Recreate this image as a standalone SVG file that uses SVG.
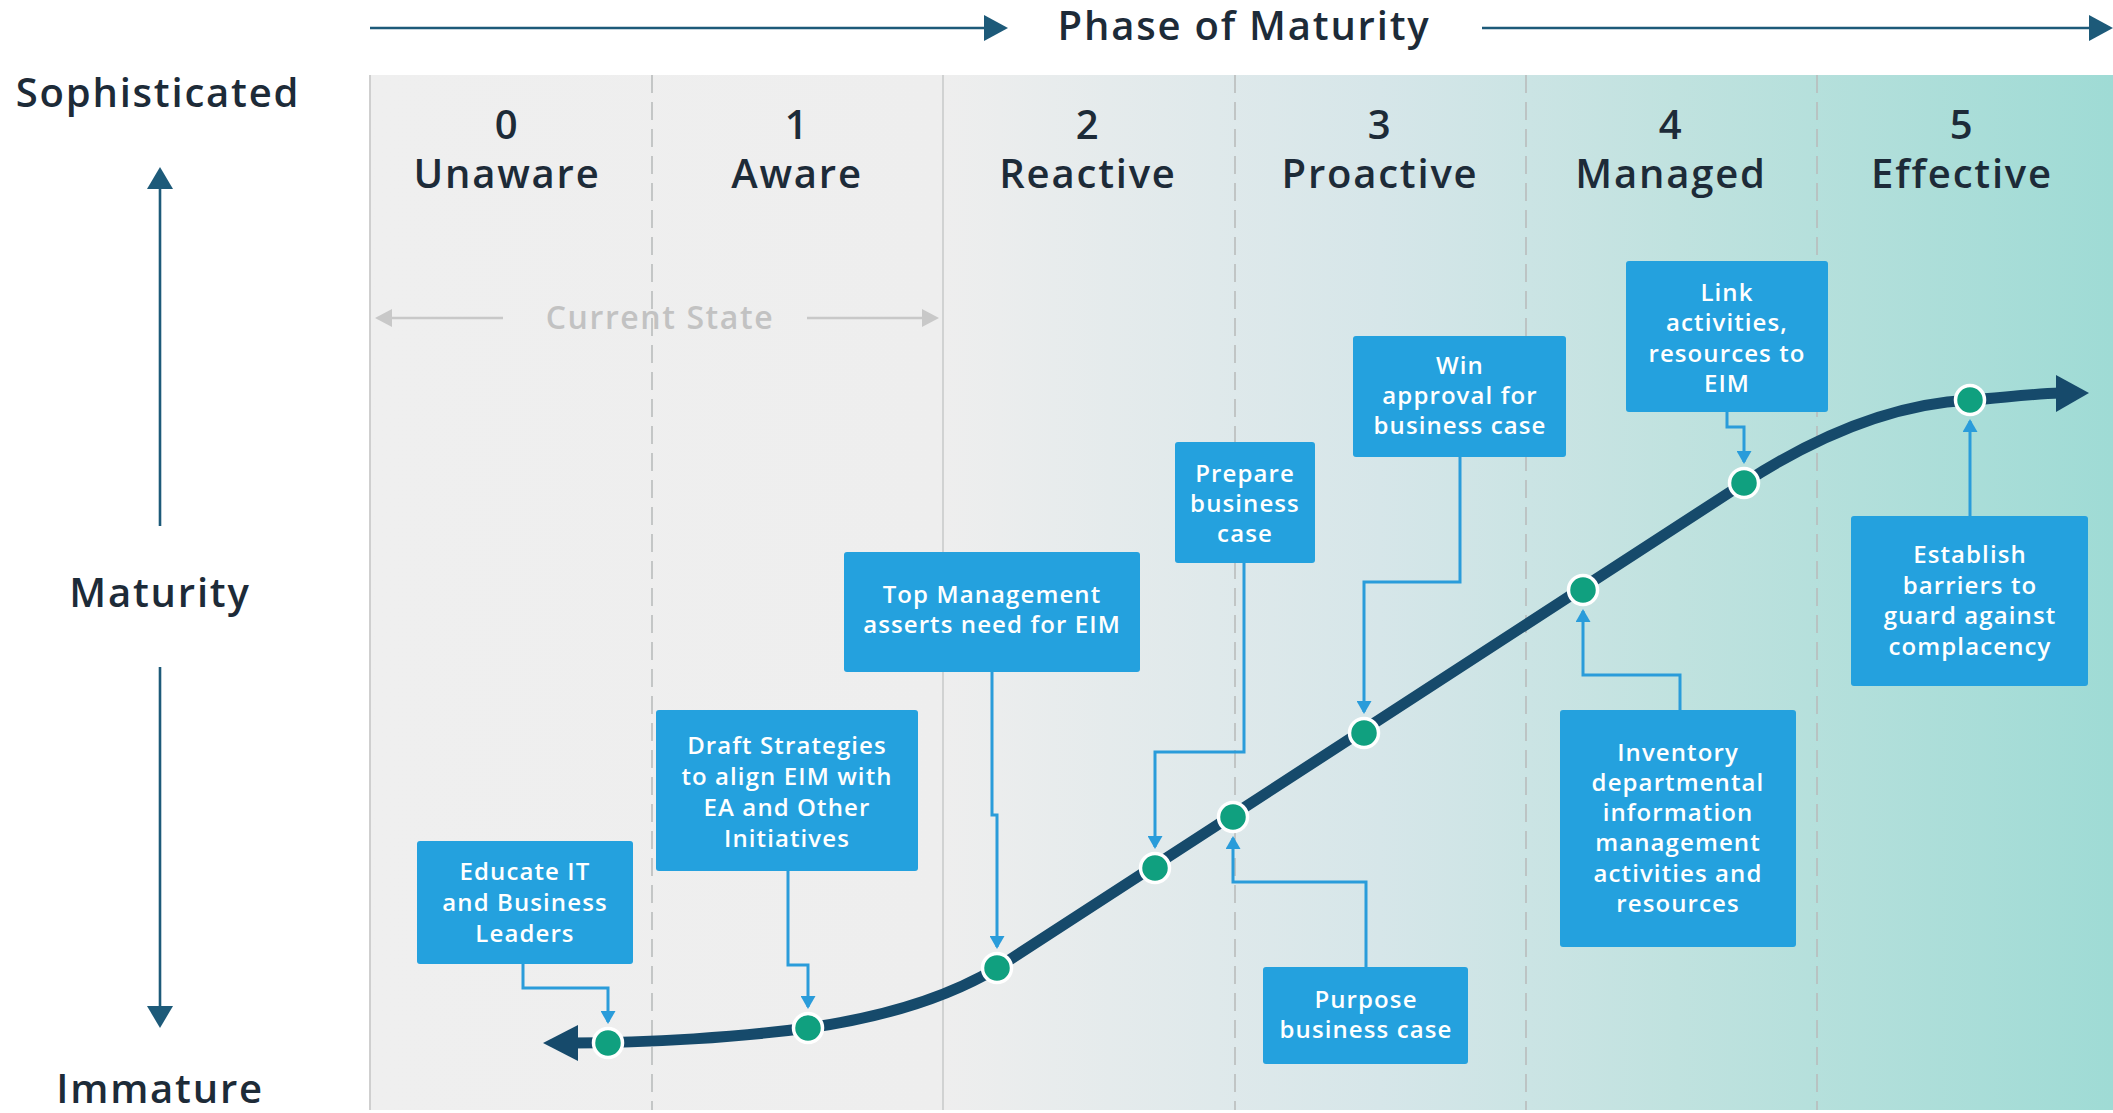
<svg xmlns="http://www.w3.org/2000/svg" width="2113" height="1113" viewBox="0 0 2113 1113">
<style>
.lbl{font-family:"Open Sans","DejaVu Sans",sans-serif;font-weight:600;font-size:40px;fill:#1d2b38;text-anchor:middle;letter-spacing:1.8px}
.cs{font-family:"Open Sans","DejaVu Sans",sans-serif;font-weight:600;font-size:32px;fill:#c2c2c2;text-anchor:middle;letter-spacing:1.6px}
.bx rect{fill:#24a1de}
.bx text{font-family:"Open Sans","DejaVu Sans",sans-serif;font-weight:600;font-size:24px;fill:#ffffff;text-anchor:middle;letter-spacing:1.1px}
.div{stroke:#b9bcbc;stroke-width:1.6;stroke-dasharray:18 9;fill:none}
.axis{stroke:#1d5a79;stroke-width:2.6;fill:none}
.axh{fill:#1d5a79}
.con{stroke:#2a9cda;stroke-width:3;fill:none;marker-end:url(#ba)}
.gr{stroke:#c8c8c8;stroke-width:2.6;fill:none}
.dot{fill:#10a07f;stroke:#ffffff;stroke-width:3.5}
</style>
<defs>
<linearGradient id="bg" x1="370" y1="0" x2="2113" y2="0" gradientUnits="userSpaceOnUse">
<stop offset="0" stop-color="#efefef"/>
<stop offset="0.33" stop-color="#eeeeee"/>
<stop offset="0.58" stop-color="#d6e6e9"/>
<stop offset="0.75" stop-color="#c0e2df"/>
<stop offset="1" stop-color="#9fdbd5"/>
</linearGradient>
<marker id="ba" markerUnits="userSpaceOnUse" viewBox="0 0 13 15" markerWidth="13" markerHeight="15" refX="11" refY="7.5" orient="auto">
<path d="M0,0 L13,7.5 L0,15 z" fill="#2a9cda"/>
</marker>
</defs>

<!-- background panel -->
<rect x="0" y="0" width="2113" height="1113" fill="#ffffff"/>
<rect x="370" y="75" width="1743" height="1035" fill="url(#bg)"/>
<line x1="370" y1="75" x2="370" y2="1110" stroke="#cfcfcf" stroke-width="2"/>
<line x1="943" y1="75" x2="943" y2="1110" stroke="#c9cbcb" stroke-width="1.6"/>
<line class="div" x1="652" y1="75" x2="652" y2="1110"/>
<line class="div" x1="1235" y1="75" x2="1235" y2="1110"/>
<line class="div" x1="1526" y1="75" x2="1526" y2="1110"/>
<line class="div" x1="1817" y1="75" x2="1817" y2="1110"/>

<!-- axes -->
<g id="phase-axis">
<line class="axis" x1="370" y1="28" x2="990" y2="28"/>
<polygon class="axh" points="984,15 1008,28 984,41"/>
<text class="lbl" x="1244" y="40">Phase of Maturity</text>
<line class="axis" x1="1482" y1="28" x2="2095" y2="28"/>
<polygon class="axh" points="2089,15 2113,28 2089,41"/>
</g>
<g id="maturity-axis">
<text class="lbl" x="158" y="107">Sophisticated</text>
<line class="axis" x1="160" y1="186" x2="160" y2="526"/>
<polygon class="axh" points="147,189 160,167 173,189"/>
<text class="lbl" x="160" y="607">Maturity</text>
<line class="axis" x1="160" y1="667" x2="160" y2="1010"/>
<polygon class="axh" points="147,1006 160,1028 173,1006"/>
<text class="lbl" x="160" y="1103">Immature</text>
</g>

<!-- column headers -->
<g id="headers">
<text class="lbl" x="507" y="139">0</text><text class="lbl" x="507" y="188">Unaware</text>
<text class="lbl" x="797" y="139">1</text><text class="lbl" x="797" y="188">Aware</text>
<text class="lbl" x="1088" y="139">2</text><text class="lbl" x="1088" y="188">Reactive</text>
<text class="lbl" x="1380" y="139">3</text><text class="lbl" x="1380" y="188">Proactive</text>
<text class="lbl" x="1671" y="139">4</text><text class="lbl" x="1671" y="188">Managed</text>
<text class="lbl" x="1962" y="139">5</text><text class="lbl" x="1962" y="188">Effective</text>
</g>

<!-- current state -->
<g id="current-state">
<line class="gr" x1="503" y1="318" x2="388" y2="318"/>
<polygon points="375,318 392,309 392,327" fill="#c8c8c8"/>
<text class="cs" x="660" y="329">Current State</text>
<line class="gr" x1="807" y1="318" x2="926" y2="318"/>
<polygon points="939,318 922,309 922,327" fill="#c8c8c8"/>
</g>

<!-- maturity curve -->
<g id="curve">
<path d="M572,1043 C650,1043 740,1037 808,1028 C878,1018 945,999 997,968 L1744,483 C1815,437 1890,404 1970,400 C2000,398 2030,394 2060,393" fill="none" stroke="#164a6b" stroke-width="11" stroke-linecap="round" stroke-linejoin="round"/>
<polygon points="543,1043 578,1025 578,1061" fill="#164a6b"/>
<polygon points="2089,393 2056,375 2056,412" fill="#164a6b"/>
</g>

<!-- connectors -->
<g id="connectors">
<path class="con" d="M523,964 V988 H608 V1022"/>
<path class="con" d="M788,871 V965 H808 V1007"/>
<path class="con" d="M992,672 V815 H997 V947"/>
<path class="con" d="M1244,563 V752 H1155 V847"/>
<path class="con" d="M1366,967 V882 H1233 V838"/>
<path class="con" d="M1460,457 V582 H1364 V712"/>
<path class="con" d="M1680,710 V675 H1583 V611"/>
<path class="con" d="M1727,412 V427 H1744 V462"/>
<path class="con" d="M1970,516 V421"/>
</g>

<!-- milestone dots -->
<g id="dots">
<circle class="dot" cx="608" cy="1043" r="14.5"/>
<circle class="dot" cx="808" cy="1028" r="14.5"/>
<circle class="dot" cx="997" cy="968" r="14.5"/>
<circle class="dot" cx="1155" cy="868" r="14.5"/>
<circle class="dot" cx="1233" cy="817" r="14.5"/>
<circle class="dot" cx="1364" cy="733" r="14.5"/>
<circle class="dot" cx="1583" cy="590" r="14.5"/>
<circle class="dot" cx="1744" cy="483" r="14.5"/>
<circle class="dot" cx="1970" cy="400" r="14.5"/>
</g>

<!-- boxes -->
<g id="box-educate" class="bx">
<rect x="417" y="841" width="216" height="123" rx="3"/>
<text x="525" y="880">Educate IT</text><text x="525" y="911">and Business</text><text x="525" y="942">Leaders</text>
</g>
<g id="box-draft" class="bx">
<rect x="656" y="710" width="262" height="161" rx="3"/>
<text x="787" y="754">Draft Strategies</text><text x="787" y="785">to align EIM with</text><text x="787" y="816">EA and Other</text><text x="787" y="847">Initiatives</text>
</g>
<g id="box-topmgmt" class="bx">
<rect x="844" y="552" width="296" height="120" rx="3"/>
<text x="992" y="603">Top Management</text><text x="992" y="633">asserts need for EIM</text>
</g>
<g id="box-prepare" class="bx">
<rect x="1175" y="442" width="140" height="121" rx="3"/>
<text x="1245" y="482">Prepare</text><text x="1245" y="512">business</text><text x="1245" y="542">case</text>
</g>
<g id="box-win" class="bx">
<rect x="1353" y="336" width="213" height="121" rx="3"/>
<text x="1460" y="374">Win</text><text x="1460" y="404">approval for</text><text x="1460" y="434">business case</text>
</g>
<g id="box-link" class="bx">
<rect x="1626" y="261" width="202" height="151" rx="3"/>
<text x="1727" y="301">Link</text><text x="1727" y="331">activities,</text><text x="1727" y="362">resources to</text><text x="1727" y="392">EIM</text>
</g>
<g id="box-establish" class="bx">
<rect x="1851" y="516" width="237" height="170" rx="3"/>
<text x="1970" y="563">Establish</text><text x="1970" y="594">barriers to</text><text x="1970" y="624">guard against</text><text x="1970" y="655">complacency</text>
</g>
<g id="box-inventory" class="bx">
<rect x="1560" y="710" width="236" height="237" rx="3"/>
<text x="1678" y="761">Inventory</text><text x="1678" y="791">departmental</text><text x="1678" y="821">information</text><text x="1678" y="851">management</text><text x="1678" y="882">activities and</text><text x="1678" y="912">resources</text>
</g>
<g id="box-purpose" class="bx">
<rect x="1263" y="967" width="205" height="97" rx="3"/>
<text x="1366" y="1008">Purpose</text><text x="1366" y="1038">business case</text>
</g>
</svg>
